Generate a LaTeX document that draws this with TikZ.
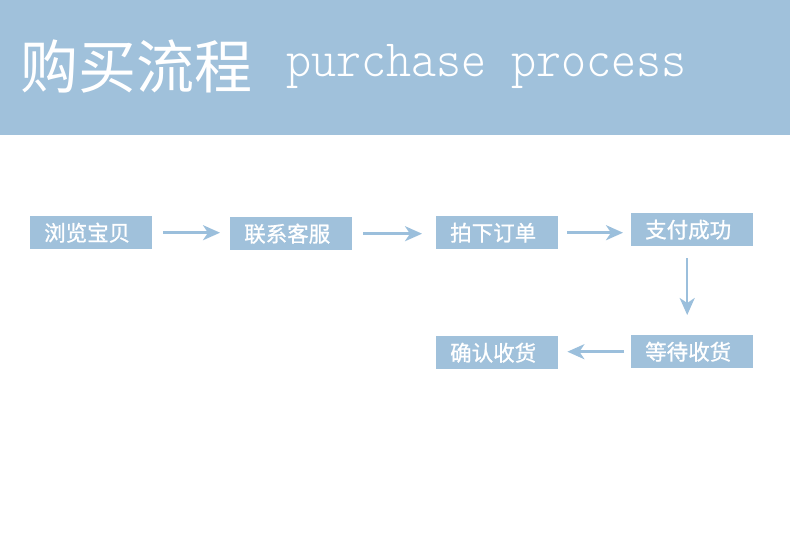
\documentclass[tikz,border=0pt]{standalone}
\usepackage{fontspec}
\usetikzlibrary{arrows.meta}
\newfontfamily\cjk{Noto Sans CJK SC}
\newfontfamily\cjkmed{Noto Sans CJK SC}[FakeBold=1]
\newfontfamily\lmlight{Latin Modern Mono Light}
\definecolor{bandblue}{HTML}{A0C1DB}
\definecolor{arrowblue}{HTML}{9BBFDC}
\begin{document}
\begin{tikzpicture}[x=1pt,y=-1pt,
  stepbox/.style={fill=bandblue, text=white, font=\cjkmed\fontsize{21.5pt}{24pt}\selectfont,
    text width=94pt, align=left, inner xsep=14pt, inner ysep=0pt, minimum height=33pt, anchor=north west},
  flow/.style={draw=arrowblue, line width=2.5pt, -{Stealth[length=17pt,width=15pt,inset=5pt]}}]
\useasboundingbox (0,0) rectangle (790,536);
\fill[white] (0,0) rectangle (790,536);
\fill[bandblue] (0,0) rectangle (790,135);
\node[anchor=base west, inner sep=0pt, text=white, font=\cjk\fontsize{58pt}{60pt}\selectfont] (title) at (20,88) {购买流程};
\node[anchor=base west, inner sep=0pt, text=white, font=\lmlight\fontsize{47.7pt}{50pt}\selectfont] (subtitle) at (286,76) {\scalebox{1}[1.1]{purchase process}};
\node[stepbox] (b1) at (30,216) {浏览宝贝};
\node[stepbox] (b2) at (230,217) {联系客服};
\node[stepbox] (b3) at (436,216) {拍下订单};
\node[stepbox] (b4) at (631,213) {支付成功};
\node[stepbox] (b5) at (631,335) {等待收货};
\node[stepbox] (b6) at (436,336) {确认收货};
\draw[flow, shorten <=11pt, shorten >=10pt] (b1.east) -- (b1.east -| b2.west);
\draw[flow, shorten <=11pt, shorten >=14pt] (b2.east) -- (b2.east -| b3.west);
\draw[flow, shorten <=9pt, shorten >=8pt] (b3.east) -- (b3.east -| b4.west);
\draw[flow, shorten <=12pt, shorten >=20pt] ([xshift=-5pt]b4.south) -- ([xshift=-5pt]b4.south |- b5.north);
\draw[flow, shorten <=7pt, shorten >=9pt] (b5.west) -- (b5.west -| b6.east);
\end{tikzpicture}
\end{document}
